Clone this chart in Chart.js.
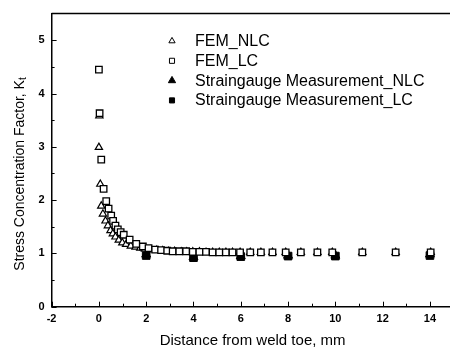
<!DOCTYPE html>
<html>
<head>
<meta charset="utf-8">
<script src="https://cdn.jsdelivr.net/npm/chart.js@4/dist/chart.umd.min.js"></script>
<style>
  html, body { margin: 0; padding: 0; background: #fff; overflow: hidden; }
  canvas { display: block; }
</style>
</head>
<body>
<canvas id="c" width="460" height="351" style="width:460px;height:351px"></canvas>
<script>
// ---- data ----
const xTicks = [-2, 0, 2, 4, 6, 8, 10, 12, 14];
const xMinorTicks = [-1, 1, 3, 5, 7, 9, 11, 13];
const yTicks = [0, 1, 2, 3, 4, 5];
const yMinorTicks = [0.5, 1.5, 2.5, 3.5, 4.5];

const femNlcX = [0.02, 0, 0.06, 0.1, 0.17, 0.28, 0.38, 0.49, 0.59, 0.7, 0.84, 0.99, 1.15, 1.35, 1.55, 1.75, 1.95, 2.2, 2.45, 2.7, 2.95, 3.2, 3.48, 3.71, 3.97, 4.25, 4.53, 4.81, 5.09, 5.37, 5.65, 5.97, 6.4, 6.85, 7.34, 7.9, 8.54, 9.24, 9.87, 11.14, 12.55, 14.03];
const femNlcY = [3.58, 2.99, 2.30, 1.89, 1.74, 1.61, 1.52, 1.43, 1.37, 1.31, 1.25, 1.20, 1.17, 1.14, 1.12, 1.10, 1.08, 1.07, 1.06, 1.05, 1.04, 1.04, 1.03, 1.03, 1.03, 1.03, 1.02, 1.02, 1.02, 1.02, 1.02, 1.02, 1.02, 1.02, 1.02, 1.02, 1.02, 1.02, 1.02, 1.02, 1.02, 1.02];

const femLcX = [0, 0.03, 0.1, 0.2, 0.31, 0.41, 0.52, 0.6, 0.7, 0.8, 0.92, 1.05, 1.3, 1.58, 1.86, 2.1, 2.38, 2.63, 2.89, 3.12, 3.4, 3.69, 3.97, 4.25, 4.53, 4.81, 5.09, 5.37, 5.65, 5.97, 6.4, 6.85, 7.34, 7.9, 8.54, 9.24, 9.87, 11.14, 12.55, 14.03];
const femLcY = [4.45, 3.63, 2.76, 2.21, 1.98, 1.84, 1.71, 1.61, 1.52, 1.45, 1.40, 1.35, 1.26, 1.18, 1.13, 1.10, 1.07, 1.06, 1.05, 1.04, 1.04, 1.04, 1.03, 1.03, 1.03, 1.02, 1.02, 1.02, 1.02, 1.02, 1.02, 1.02, 1.02, 1.02, 1.02, 1.02, 1.02, 1.02, 1.02, 1.02];

const gaugeX = [2, 4, 6, 8, 10, 14];
const gaugeNlcY = [0.98, 0.93, 0.95, 0.96, 0.96, 0.98];
const gaugeLcY = [0.96, 0.92, 0.94, 0.95, 0.95, 0.96];

const seriesLabels = ['FEM_NLC', 'FEM_LC', 'Straingauge Measurement_NLC', 'Straingauge Measurement_LC'];
const xTitle = 'Distance from weld toe, mm';
const yTitleMain = 'Stress Concentration Factor, K';
const yTitleSub = 't';

// ---- build ----
const pts = (xs, ys) => xs.map((x, i) => ({ x: x, y: ys[i] }));
const FONT = "'Liberation Sans', Arial, sans-serif";

const inwardTicks = {
  id: 'inwardTicks',
  afterDraw(chart) {
    const ctx = chart.ctx;
    const xs = chart.scales.x, ys = chart.scales.y;
    const a = chart.chartArea;
    ctx.save();
    ctx.strokeStyle = '#000';
    ctx.lineWidth = 1;
    ctx.beginPath();
    xTicks.forEach(v => { const p = Math.round(xs.getPixelForValue(v)) + 0.5; ctx.moveTo(p, a.bottom); ctx.lineTo(p, a.bottom - 5); });
    xMinorTicks.forEach(v => { const p = Math.round(xs.getPixelForValue(v)) + 0.5; ctx.moveTo(p, a.bottom); ctx.lineTo(p, a.bottom - 3); });
    yTicks.forEach(v => { const p = Math.round(ys.getPixelForValue(v)) + 0.5; ctx.moveTo(a.left, p); ctx.lineTo(a.left + 5, p); });
    yMinorTicks.forEach(v => { const p = Math.round(ys.getPixelForValue(v)) + 0.5; ctx.moveTo(a.left, p); ctx.lineTo(a.left + 3, p); });
    ctx.stroke();
    // top frame line
    ctx.lineWidth = 1.5;
    ctx.beginPath();
    ctx.moveTo(a.left, a.top);
    ctx.lineTo(a.right, a.top);
    ctx.stroke();
    ctx.restore();
  }
};

const yTitlePlugin = {
  id: 'yTitlePlugin',
  afterDraw(chart) {
    const ctx = chart.ctx;
    ctx.save();
    ctx.translate(20, 174);
    ctx.rotate(-Math.PI / 2);
    ctx.fillStyle = '#000';
    ctx.textBaseline = 'middle';
    ctx.font = '14px ' + FONT;
    const wMain = ctx.measureText(yTitleMain).width;
    ctx.font = '10px ' + FONT;
    const wSub = ctx.measureText(yTitleSub).width;
    const start = -(wMain + wSub) / 2;
    ctx.font = '14px ' + FONT;
    ctx.textAlign = 'left';
    ctx.fillText(yTitleMain, start, 0);
    ctx.font = '10px ' + FONT;
    ctx.fillText(yTitleSub, start + wMain, 3);
    ctx.restore();
  }
};

const customLegend = {
  id: 'customLegend',
  afterDraw(chart) {
    const ctx = chart.ctx;
    const legendSizes = [3.6, 3.6, 4.2, 3.6];
    ctx.save();
    ctx.font = '16px ' + FONT;
    ctx.textBaseline = 'middle';
    ctx.textAlign = 'left';
    ctx.fillStyle = '#000';
    chart.data.datasets.forEach((ds, i) => {
      const y = 41 + i * 19.8;
      ctx.save();
      ctx.lineWidth = 1;
      ctx.strokeStyle = ds.borderColor;
      ctx.fillStyle = ds.backgroundColor;
      Chart.helpers.drawPoint(ctx, { pointStyle: ds.pointStyle, radius: legendSizes[i], rotation: 0, borderWidth: 1 }, 172, y);
      ctx.restore();
      ctx.fillStyle = '#000';
      ctx.fillText(ds.label, 195, y + 0.5);
    });
    ctx.restore();
  }
};

new Chart(document.getElementById('c'), {
  type: 'scatter',
  data: {
    datasets: [
      { label: seriesLabels[0], data: pts(femNlcX, femNlcY), pointStyle: 'triangle', pointRadius: 4.2, borderColor: '#000', backgroundColor: '#fff', borderWidth: 1.2, order: 1 },
      { label: seriesLabels[1], data: pts(femLcX, femLcY), pointStyle: 'rect', pointRadius: 4.6, borderColor: '#000', backgroundColor: '#fff', borderWidth: 1.3, order: 0 },
      { label: seriesLabels[2], data: pts(gaugeX, gaugeNlcY), pointStyle: 'triangle', pointRadius: 5.2, borderColor: '#000', backgroundColor: '#000', borderWidth: 1, order: 3 },
      { label: seriesLabels[3], data: pts(gaugeX, gaugeLcY), pointStyle: 'rect', pointRadius: 5.4, borderColor: '#000', backgroundColor: '#000', borderWidth: 1, order: 2 }
    ]
  },
  options: {
    responsive: false,
    animation: false,
    events: [],
    layout: { padding: { top: 8.6, right: 5.5, left: 0, bottom: 0 } },
    plugins: { legend: { display: false }, tooltip: { enabled: false } },
    scales: {
      x: {
        type: 'linear', min: -2, max: 15,
        afterBuildTicks: s => { s.ticks = xTicks.map(v => ({ value: v })); },
        afterFit: s => { s.height = 44.3; },
        grid: { display: true, drawOnChartArea: false, drawTicks: false },
        border: { display: true, color: '#000', width: 1.5 },
        ticks: { color: '#000', padding: 6, maxRotation: 0, font: { family: FONT, size: 11, weight: 'bold' } },
        title: { display: true, text: xTitle, color: '#000', padding: { top: 0, bottom: 1 }, font: { family: FONT, size: 15 } }
      },
      y: {
        type: 'linear', min: 0, max: 5.5,
        afterBuildTicks: s => { s.ticks = yTicks.map(v => ({ value: v })); },
        afterFit: s => { s.width = 51.6; },
        grid: { display: true, drawOnChartArea: false, drawTicks: false },
        border: { display: true, color: '#000', width: 1.5 },
        ticks: { color: '#000', padding: 7, font: { family: FONT, size: 11, weight: 'bold' } },
        title: { display: false }
      }
    }
  },
  plugins: [inwardTicks, yTitlePlugin, customLegend]
});
</script>
</body>
</html>
